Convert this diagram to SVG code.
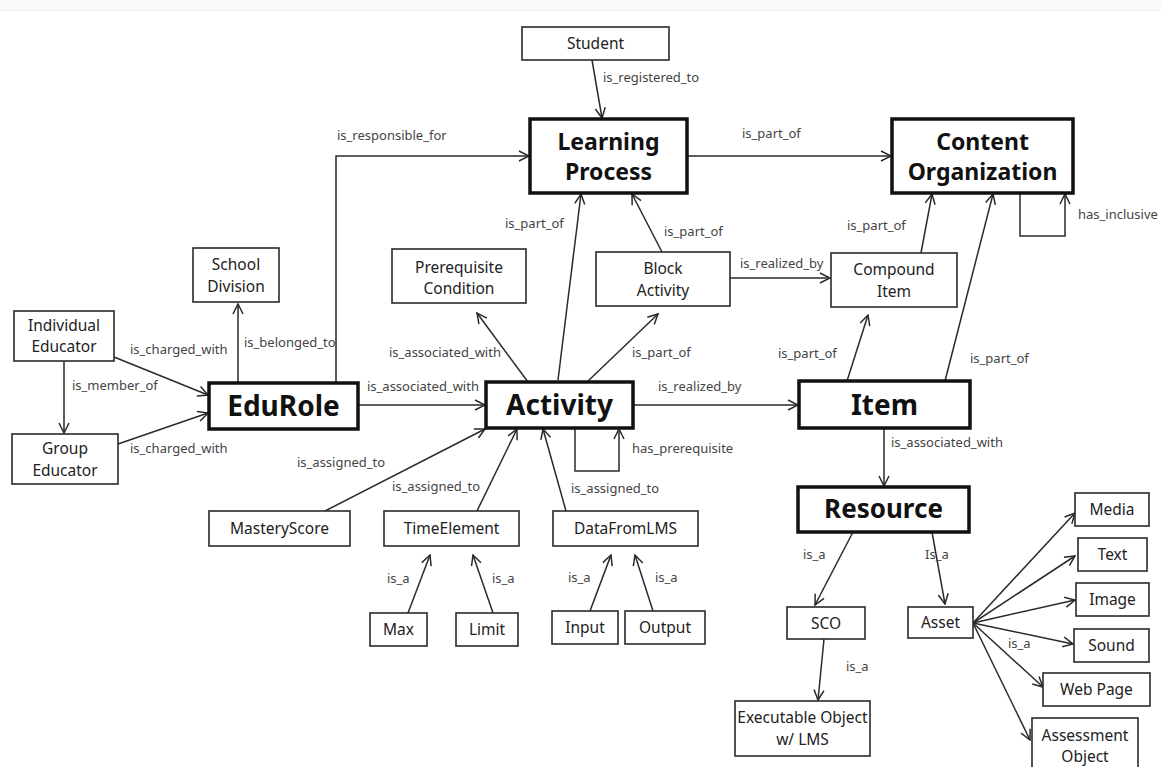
<svg xmlns="http://www.w3.org/2000/svg" width="1161" height="767" viewBox="0 0 1161 767">
<style>
.n{fill:#fff;stroke:#2a2a2a;stroke-width:1.6}
.b{fill:#fff;stroke:#111;stroke-width:3.5}
.t{font-family:"Noto Sans",sans-serif;font-size:15.5px;fill:#222;text-anchor:middle}
.bt{font-family:"Noto Sans",sans-serif;font-weight:bold;fill:#111;text-anchor:middle}
.c{fill:none;stroke:#2a2a2a;stroke-width:1.5}
.l{font-family:"Noto Sans",sans-serif;font-size:13px;fill:#444}
</style>
<defs>
<marker id="a" viewBox="0 0 12 12" refX="11" refY="6" markerWidth="12" markerHeight="12" markerUnits="userSpaceOnUse" orient="auto">
<path d="M1,1 L11,6 L1,11" fill="none" stroke="#2a2a2a" stroke-width="1.5"/>
</marker>
</defs>
<rect x="0" y="0" width="1161" height="767" fill="#fff"/>
<rect x="0" y="0" width="1161" height="10" fill="#fafafa"/>
<line x1="0" y1="10.5" x2="1161" y2="10.5" stroke="#ececec" stroke-width="1"/>

<g id="connectors">
<line class="c" x1="592" y1="60" x2="602" y2="118" marker-end="url(#a)"/>
<polyline class="c" points="336,383 336,156 529,156" marker-end="url(#a)"/>
<line class="c" x1="687" y1="156" x2="891" y2="156" marker-end="url(#a)"/>
<polyline class="c" points="1020,193 1020,236 1065,236 1065,194" marker-end="url(#a)"/>
<line class="c" x1="558" y1="380" x2="581" y2="194" marker-end="url(#a)"/>
<line class="c" x1="662" y1="252" x2="632" y2="194" marker-end="url(#a)"/>
<line class="c" x1="730" y1="278" x2="830" y2="278" marker-end="url(#a)"/>
<line class="c" x1="921" y1="253" x2="932" y2="194" marker-end="url(#a)"/>
<line class="c" x1="945" y1="381" x2="993" y2="194" marker-end="url(#a)"/>
<line class="c" x1="847" y1="381" x2="868" y2="315" marker-end="url(#a)"/>
<line class="c" x1="633" y1="405" x2="798" y2="405" marker-end="url(#a)"/>
<line class="c" x1="358" y1="405" x2="485" y2="405" marker-end="url(#a)"/>
<line class="c" x1="238" y1="383" x2="238" y2="304" marker-end="url(#a)"/>
<line class="c" x1="114" y1="357" x2="208" y2="395" marker-end="url(#a)"/>
<line class="c" x1="118" y1="444" x2="208" y2="413" marker-end="url(#a)"/>
<line class="c" x1="64" y1="361" x2="64" y2="433" marker-end="url(#a)"/>
<line class="c" x1="528" y1="382" x2="477" y2="313" marker-end="url(#a)"/>
<line class="c" x1="587" y1="382" x2="658" y2="314" marker-end="url(#a)"/>
<polyline class="c" points="575,428 575,471 619,471 619,429" marker-end="url(#a)"/>
<line class="c" x1="325" y1="511" x2="485" y2="429" marker-end="url(#a)"/>
<line class="c" x1="477" y1="511" x2="517" y2="429" marker-end="url(#a)"/>
<line class="c" x1="566" y1="511" x2="543" y2="429" marker-end="url(#a)"/>
<line class="c" x1="408" y1="613" x2="430" y2="555" marker-end="url(#a)"/>
<line class="c" x1="493" y1="613" x2="473" y2="555" marker-end="url(#a)"/>
<line class="c" x1="590" y1="611" x2="611" y2="555" marker-end="url(#a)"/>
<line class="c" x1="653" y1="611" x2="635" y2="555" marker-end="url(#a)"/>
<line class="c" x1="884" y1="428" x2="884" y2="486" marker-end="url(#a)"/>
<line class="c" x1="853" y1="532" x2="815" y2="605" marker-end="url(#a)"/>
<line class="c" x1="932" y1="532" x2="945" y2="604" marker-end="url(#a)"/>
<line class="c" x1="824" y1="639" x2="818" y2="700" marker-end="url(#a)"/>
<line class="c" x1="973" y1="623" x2="1075" y2="513" marker-end="url(#a)"/>
<line class="c" x1="973" y1="623" x2="1075" y2="556" marker-end="url(#a)"/>
<line class="c" x1="973" y1="623" x2="1075" y2="600" marker-end="url(#a)"/>
<line class="c" x1="973" y1="623" x2="1073" y2="644" marker-end="url(#a)"/>
<line class="c" x1="973" y1="623" x2="1043" y2="687" marker-end="url(#a)"/>
<line class="c" x1="973" y1="623" x2="1030" y2="740" marker-end="url(#a)"/>

<text class="l" x="603" y="82">is_registered_to</text>
<text class="l" x="337" y="140">is_responsible_for</text>
<text class="l" x="742" y="138">is_part_of</text>
<text class="l" x="1078" y="219">has_inclusive</text>
<text class="l" x="505" y="228">is_part_of</text>
<text class="l" x="664" y="236">is_part_of</text>
<text class="l" x="740" y="268">is_realized_by</text>
<text class="l" x="847" y="230">is_part_of</text>
<text class="l" x="970" y="363">is_part_of</text>
<text class="l" x="778" y="358">is_part_of</text>
<text class="l" x="658" y="391">is_realized_by</text>
<text class="l" x="367" y="391">is_associated_with</text>
<text class="l" x="244" y="347">is_belonged_to</text>
<text class="l" x="130" y="354">is_charged_with</text>
<text class="l" x="130" y="453">is_charged_with</text>
<text class="l" x="72" y="390">is_member_of</text>
<text class="l" x="389" y="357">is_associated_with</text>
<text class="l" x="632" y="357">is_part_of</text>
<text class="l" x="632" y="453">has_prerequisite</text>
<text class="l" x="297" y="467">is_assigned_to</text>
<text class="l" x="392" y="491">is_assigned_to</text>
<text class="l" x="571" y="493">is_assigned_to</text>
<text class="l" x="387" y="583">is_a</text>
<text class="l" x="492" y="583">is_a</text>
<text class="l" x="568" y="582">is_a</text>
<text class="l" x="655" y="582">is_a</text>
<text class="l" x="891" y="447">is_associated_with</text>
<text class="l" x="803" y="559">is_a</text>
<text class="l" x="925" y="559">Is_a</text>
<text class="l" x="846" y="671">is_a</text>
<text class="l" x="1008" y="648">is_a</text>
</g>

<g id="student"><rect class="n" x="522" y="27" width="147" height="33"/><text class="t" x="595.5" y="49">Student</text></g>
<g id="learning-process"><rect class="b" x="530" y="119" width="157" height="74"/><text class="bt" font-size="23" x="608.5" y="150">Learning</text><text class="bt" font-size="23" x="608.5" y="180">Process</text></g>
<g id="content-organization"><rect class="b" x="892" y="119" width="181" height="74"/><text class="bt" font-size="23" x="982.5" y="150">Content</text><text class="bt" font-size="23" x="982.5" y="180">Organization</text></g>
<g id="school-division"><rect class="n" x="193" y="248" width="86" height="54"/><text class="t" x="236" y="270">School</text><text class="t" x="236" y="291.5">Division</text></g>
<g id="individual-educator"><rect class="n" x="14" y="311" width="100" height="50"/><text class="t" x="64" y="330.5">Individual</text><text class="t" x="64" y="352">Educator</text></g>
<g id="group-educator"><rect class="n" x="12" y="434" width="106" height="50"/><text class="t" x="65" y="454">Group</text><text class="t" x="65" y="475.5">Educator</text></g>
<g id="edurole"><rect class="b" x="209" y="383" width="149" height="46"/><text class="bt" font-size="28" x="283.5" y="416">EduRole</text></g>
<g id="prerequisite-condition"><rect class="n" x="392" y="249" width="134" height="54"/><text class="t" x="459" y="272.5">Prerequisite</text><text class="t" x="459" y="294">Condition</text></g>
<g id="block-activity"><rect class="n" x="596" y="252" width="134" height="54"/><text class="t" x="663" y="274">Block</text><text class="t" x="663" y="295.5">Activity</text></g>
<g id="activity"><rect class="b" x="486" y="382" width="147" height="46"/><text class="bt" font-size="28" x="559.5" y="415">Activity</text></g>
<g id="compound-item"><rect class="n" x="831" y="253" width="126" height="54"/><text class="t" x="894" y="275">Compound</text><text class="t" x="894" y="296.5">Item</text></g>
<g id="item"><rect class="b" x="799" y="381" width="171" height="47"/><text class="bt" font-size="28" x="884.5" y="415">Item</text></g>
<g id="resource"><rect class="b" x="798" y="487" width="171" height="45"/><text class="bt" font-size="26" x="883.5" y="518">Resource</text></g>
<g id="masteryscore"><rect class="n" x="209" y="511" width="141" height="35"/><text class="t" x="279.5" y="534">MasteryScore</text></g>
<g id="timeelement"><rect class="n" x="384" y="511" width="135" height="35"/><text class="t" x="451.5" y="534">TimeElement</text></g>
<g id="datafromlms"><rect class="n" x="553" y="511" width="145" height="35"/><text class="t" x="625.5" y="534">DataFromLMS</text></g>
<g id="max"><rect class="n" x="370" y="613" width="57" height="33"/><text class="t" x="398.5" y="635">Max</text></g>
<g id="limit"><rect class="n" x="456" y="613" width="62" height="33"/><text class="t" x="487" y="635">Limit</text></g>
<g id="input"><rect class="n" x="552" y="611" width="66" height="33"/><text class="t" x="585" y="633">Input</text></g>
<g id="output"><rect class="n" x="625" y="611" width="80" height="33"/><text class="t" x="665" y="633">Output</text></g>
<g id="sco"><rect class="n" x="787" y="607" width="78" height="32"/><text class="t" x="826" y="628.5">SCO</text></g>
<g id="executable-object"><rect class="n" x="735" y="701" width="135" height="55"/><text class="t" x="802.5" y="723">Executable Object</text><text class="t" x="802.5" y="744.5">w/ LMS</text></g>
<g id="asset"><rect class="n" x="908" y="607" width="65" height="31"/><text class="t" x="940.5" y="628">Asset</text></g>
<g id="media"><rect class="n" x="1075" y="493" width="74" height="33"/><text class="t" x="1112" y="515">Media</text></g>
<g id="text"><rect class="n" x="1078" y="538" width="69" height="33"/><text class="t" x="1112.5" y="560">Text</text></g>
<g id="image"><rect class="n" x="1076" y="583" width="73" height="33"/><text class="t" x="1112.5" y="605">Image</text></g>
<g id="sound"><rect class="n" x="1074" y="629" width="75" height="33"/><text class="t" x="1111.5" y="651">Sound</text></g>
<g id="web-page"><rect class="n" x="1043" y="673" width="107" height="33"/><text class="t" x="1096.5" y="695">Web Page</text></g>
<g id="assessment-object"><rect class="n" x="1032" y="718" width="106" height="54"/><text class="t" x="1085" y="740.5">Assessment</text><text class="t" x="1085" y="762">Object</text></g>
</svg>
